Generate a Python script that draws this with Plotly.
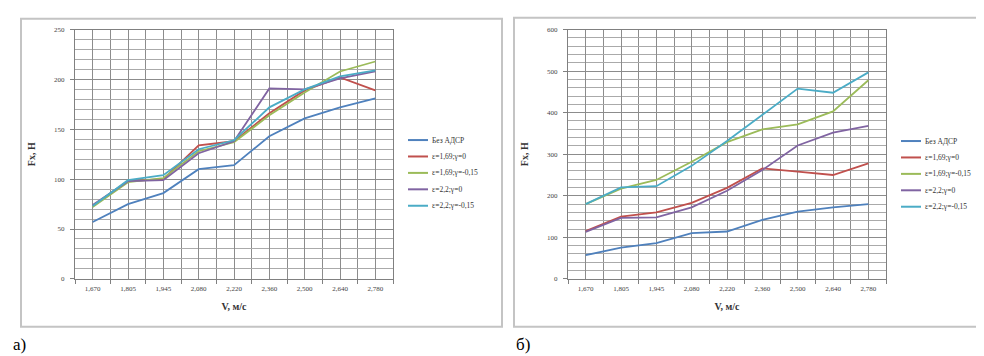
import plotly.graph_objects as go

categories = ["1,670", "1,805", "1,945", "2,080", "2,220", "2,360", "2,500", "2,640", "2,780"]
series_names = ["Без АДСР", "ε=1,69;γ=0", "ε=1,69;γ=-0,15", "ε=2,2;γ=0", "ε=2,2;γ=-0,15"]
colors = ["#4F81BD", "#C0504D", "#9BBB59", "#8064A2", "#4BACC6"]

# Chart a)
a_base = [57, 75, 86, 110, 114, 143, 161, 172, 181]
a_e169_g0 = [73, 98, 100, 134, 138, 166, 189, 202, 189]
a_e169_g015 = [72, 97, 101, 128, 137, 164, 187, 208, 218]
a_e22_g0 = [74, 98, 99, 126, 138, 191, 190, 201, 208]
a_e22_g015 = [73, 99, 104, 130, 139, 172, 190, 203, 209]

# Chart b)
b_base = [57, 75, 86, 110, 114, 142, 162, 172, 180]
b_e169_g0 = [115, 150, 160, 183, 219, 266, 258, 250, 278]
b_e169_g015 = [180, 217, 238, 282, 329, 360, 372, 403, 478]
b_e22_g0 = [113, 147, 148, 172, 212, 262, 321, 352, 368]
b_e22_g015 = [180, 220, 223, 272, 332, 395, 458, 448, 497]

a_series = [a_base, a_e169_g0, a_e169_g015, a_e22_g0, a_e22_g015]
b_series = [b_base, b_e169_g0, b_e169_g015, b_e22_g0, b_e22_g015]

W, H = 984, 356
x = list(range(len(categories)))
serif = "Liberation Serif, Times New Roman, serif"

fig = go.Figure()
for name, vals, color in zip(series_names, a_series, colors):
    fig.add_trace(go.Scatter(x=x, y=vals, mode="lines", name=name,
                             line=dict(color=color, width=1.8),
                             xaxis="x", yaxis="y", showlegend=False))
for name, vals, color in zip(series_names, b_series, colors):
    fig.add_trace(go.Scatter(x=x, y=vals, mode="lines", name=name,
                             line=dict(color=color, width=1.8),
                             xaxis="x2", yaxis="y2", showlegend=False))

half_ticks = [i - 0.5 for i in range(len(categories) + 1)]
grid_major = "#8c8c8c"
grid_minor = "#aaaaaa"


def xaxis_cfg(x0, x1, anchor):
    return dict(domain=[x0 / W, x1 / W], anchor=anchor, range=[-0.5, len(categories) - 0.5],
                tickmode="array", tickvals=x, ticktext=categories,
                showgrid=True, gridcolor=grid_major, gridwidth=1,
                ticks="", showline=True, linecolor="#808080", mirror=True,
                minor=dict(tickmode="array", tickvals=half_ticks, showgrid=True,
                           gridcolor=grid_major, ticks="outside", ticklen=4, tickcolor="#808080"),
                tickfont=dict(family=serif, size=7, color="#444"),
                ticklabelstandoff=3,
                title=dict(text="<b>V, м/с</b>", font=dict(family=serif, size=10, color="#333"), standoff=10),
                zeroline=False, fixedrange=True)


def yaxis_cfg(rng, dtick, mdtick, anchor):
    return dict(domain=[1 - 273 / H, 1 - 18 / H], anchor=anchor, range=rng,
                tickmode="linear", tick0=0, dtick=dtick,
                showgrid=True, gridcolor=grid_major, gridwidth=1,
                ticks="outside", ticklen=4, tickcolor="#808080",
                showline=True, linecolor="#808080", mirror=True,
                minor=dict(dtick=mdtick, showgrid=True, gridcolor=grid_minor, ticks=""),
                tickfont=dict(family=serif, size=7, color="#444"),
                ticklabelstandoff=4,
                title=dict(text="<b>Fx, Н</b>", font=dict(family=serif, size=10, color="#333"), standoff=16),
                zeroline=False, fixedrange=True)


shapes = [
    dict(type="rect", xref="paper", yref="paper", x0=13 / W, x1=494 / W,
         y0=1 - 322 / H, y1=1 - 7 / H, line=dict(color="#c4c4c4", width=2)),
    dict(type="rect", xref="paper", yref="paper", x0=506 / W, x1=982 / W,
         y0=1 - 322 / H, y1=1 - 6 / H, line=dict(color="#c4c4c4", width=2)),
]
annotations = [
    dict(text="а)", xref="paper", yref="paper", x=3 / W, y=1 - 340 / H,
         xanchor="left", yanchor="middle", showarrow=False,
         font=dict(family=serif, size=17, color="black")),
    dict(text="б)", xref="paper", yref="paper", x=506 / W, y=1 - 340 / H,
         xanchor="left", yanchor="middle", showarrow=False,
         font=dict(family=serif, size=17, color="black")),
]

# Compact legends (line sample + label) for both charts
for lx, ly0 in [(400, 131), (893, 132)]:
    for i, (name, color) in enumerate(zip(series_names, colors)):
        yy = 1 - (ly0 + i * 16.8) / H
        shapes.append(dict(type="line", xref="paper", yref="paper",
                           x0=lx / W, x1=(lx + 20) / W, y0=yy, y1=yy,
                           line=dict(color=color, width=2)))
        annotations.append(dict(text=name, xref="paper", yref="paper",
                                x=(lx + 22) / W, y=yy, xanchor="left", yanchor="middle",
                                showarrow=False,
                                font=dict(family=serif, size=7.5, color="#333")))

fig.update_layout(
    width=W, height=H,
    margin=dict(l=0, r=0, t=0, b=0),
    paper_bgcolor="white", plot_bgcolor="white",
    xaxis=xaxis_cfg(67, 385, "y"),
    yaxis=yaxis_cfg([0, 250], 50, 10, "x"),
    xaxis2=xaxis_cfg(560, 878, "y2"),
    yaxis2=yaxis_cfg([0, 600], 100, 20, "x2"),
    shapes=shapes,
    annotations=annotations,
)

fig.write_html("out.html")
